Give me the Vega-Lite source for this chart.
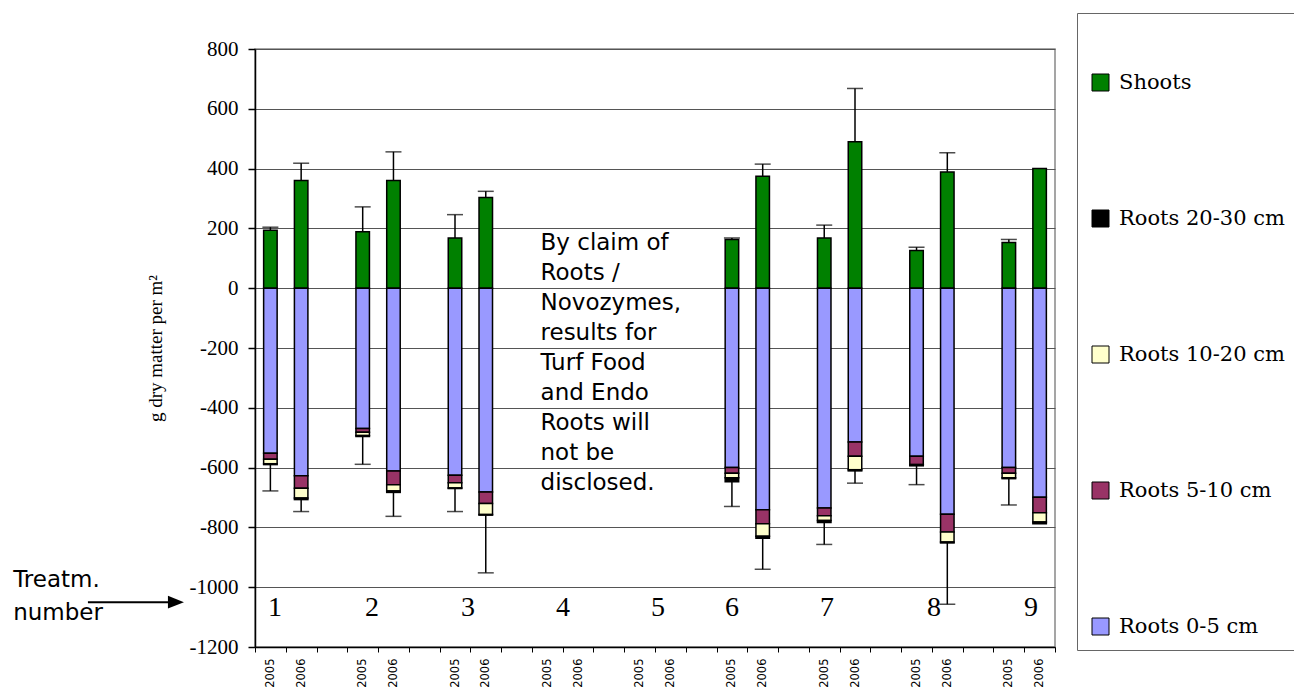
{
  "$schema": "https://vega.github.io/schema/vega-lite/v6.json",
  "autosize": "none",
  "padding": {"left": 255, "top": 49, "right": 239, "bottom": 43},
  "width": 800,
  "height": 598,
  "background": "white",
  "config": {
    "view": {"stroke": "#888888", "strokeWidth": 1.5},
    "axisY": {
      "labelFont": "Liberation Serif",
      "labelFontSize": 21,
      "labelColor": "black",
      "labelPadding": 10,
      "tickSize": 7,
      "tickColor": "black",
      "tickWidth": 1.5,
      "domainColor": "black",
      "domainWidth": 1.5,
      "grid": true,
      "gridColor": "#555555",
      "gridWidth": 1,
      "titleFont": "Liberation Serif",
      "titleFontSize": 19,
      "titleFontWeight": "normal",
      "titleColor": "black",
      "titlePadding": 24
    }
  },
  "datasets": {
    "bars": [
      {"slot": "1|2005", "comp": "Shoots", "ord": 0, "v": 194},
      {"slot": "1|2005", "comp": "Roots 0-5 cm", "ord": 1, "v": -552},
      {"slot": "1|2005", "comp": "Roots 5-10 cm", "ord": 2, "v": -20},
      {"slot": "1|2005", "comp": "Roots 10-20 cm", "ord": 3, "v": -15},
      {"slot": "1|2005", "comp": "Roots 20-30 cm", "ord": 4, "v": -3},
      {"slot": "1|2006", "comp": "Shoots", "ord": 0, "v": 360},
      {"slot": "1|2006", "comp": "Roots 0-5 cm", "ord": 1, "v": -627},
      {"slot": "1|2006", "comp": "Roots 5-10 cm", "ord": 2, "v": -42},
      {"slot": "1|2006", "comp": "Roots 10-20 cm", "ord": 3, "v": -33},
      {"slot": "1|2006", "comp": "Roots 20-30 cm", "ord": 4, "v": -5},
      {"slot": "2|2005", "comp": "Shoots", "ord": 0, "v": 189},
      {"slot": "2|2005", "comp": "Roots 0-5 cm", "ord": 1, "v": -469},
      {"slot": "2|2005", "comp": "Roots 5-10 cm", "ord": 2, "v": -13},
      {"slot": "2|2005", "comp": "Roots 10-20 cm", "ord": 3, "v": -11},
      {"slot": "2|2005", "comp": "Roots 20-30 cm", "ord": 4, "v": -3},
      {"slot": "2|2006", "comp": "Shoots", "ord": 0, "v": 360},
      {"slot": "2|2006", "comp": "Roots 0-5 cm", "ord": 1, "v": -611},
      {"slot": "2|2006", "comp": "Roots 5-10 cm", "ord": 2, "v": -46},
      {"slot": "2|2006", "comp": "Roots 10-20 cm", "ord": 3, "v": -21},
      {"slot": "2|2006", "comp": "Roots 20-30 cm", "ord": 4, "v": -5},
      {"slot": "3|2005", "comp": "Shoots", "ord": 0, "v": 168},
      {"slot": "3|2005", "comp": "Roots 0-5 cm", "ord": 1, "v": -626},
      {"slot": "3|2005", "comp": "Roots 5-10 cm", "ord": 2, "v": -25},
      {"slot": "3|2005", "comp": "Roots 10-20 cm", "ord": 3, "v": -17},
      {"slot": "3|2005", "comp": "Roots 20-30 cm", "ord": 4, "v": -2},
      {"slot": "3|2006", "comp": "Shoots", "ord": 0, "v": 303},
      {"slot": "3|2006", "comp": "Roots 0-5 cm", "ord": 1, "v": -682},
      {"slot": "3|2006", "comp": "Roots 5-10 cm", "ord": 2, "v": -38},
      {"slot": "3|2006", "comp": "Roots 10-20 cm", "ord": 3, "v": -37},
      {"slot": "3|2006", "comp": "Roots 20-30 cm", "ord": 4, "v": -2},
      {"slot": "6|2005", "comp": "Shoots", "ord": 0, "v": 163},
      {"slot": "6|2005", "comp": "Roots 0-5 cm", "ord": 1, "v": -600},
      {"slot": "6|2005", "comp": "Roots 5-10 cm", "ord": 2, "v": -19},
      {"slot": "6|2005", "comp": "Roots 10-20 cm", "ord": 3, "v": -15},
      {"slot": "6|2005", "comp": "Roots 20-30 cm", "ord": 4, "v": -13},
      {"slot": "6|2006", "comp": "Shoots", "ord": 0, "v": 374},
      {"slot": "6|2006", "comp": "Roots 0-5 cm", "ord": 1, "v": -741},
      {"slot": "6|2006", "comp": "Roots 5-10 cm", "ord": 2, "v": -47},
      {"slot": "6|2006", "comp": "Roots 10-20 cm", "ord": 3, "v": -42},
      {"slot": "6|2006", "comp": "Roots 20-30 cm", "ord": 4, "v": -6},
      {"slot": "7|2005", "comp": "Shoots", "ord": 0, "v": 168},
      {"slot": "7|2005", "comp": "Roots 0-5 cm", "ord": 1, "v": -735},
      {"slot": "7|2005", "comp": "Roots 5-10 cm", "ord": 2, "v": -26},
      {"slot": "7|2005", "comp": "Roots 10-20 cm", "ord": 3, "v": -16},
      {"slot": "7|2005", "comp": "Roots 20-30 cm", "ord": 4, "v": -7},
      {"slot": "7|2006", "comp": "Shoots", "ord": 0, "v": 490},
      {"slot": "7|2006", "comp": "Roots 0-5 cm", "ord": 1, "v": -514},
      {"slot": "7|2006", "comp": "Roots 5-10 cm", "ord": 2, "v": -48},
      {"slot": "7|2006", "comp": "Roots 10-20 cm", "ord": 3, "v": -45},
      {"slot": "7|2006", "comp": "Roots 20-30 cm", "ord": 4, "v": -4},
      {"slot": "8|2005", "comp": "Shoots", "ord": 0, "v": 126},
      {"slot": "8|2005", "comp": "Roots 0-5 cm", "ord": 1, "v": -562},
      {"slot": "8|2005", "comp": "Roots 5-10 cm", "ord": 2, "v": -28},
      {"slot": "8|2005", "comp": "Roots 10-20 cm", "ord": 3, "v": -1},
      {"slot": "8|2005", "comp": "Roots 20-30 cm", "ord": 4, "v": -3},
      {"slot": "8|2006", "comp": "Shoots", "ord": 0, "v": 389},
      {"slot": "8|2006", "comp": "Roots 0-5 cm", "ord": 1, "v": -756},
      {"slot": "8|2006", "comp": "Roots 5-10 cm", "ord": 2, "v": -59},
      {"slot": "8|2006", "comp": "Roots 10-20 cm", "ord": 3, "v": -34},
      {"slot": "8|2006", "comp": "Roots 20-30 cm", "ord": 4, "v": -3},
      {"slot": "9|2005", "comp": "Shoots", "ord": 0, "v": 153},
      {"slot": "9|2005", "comp": "Roots 0-5 cm", "ord": 1, "v": -600},
      {"slot": "9|2005", "comp": "Roots 5-10 cm", "ord": 2, "v": -19},
      {"slot": "9|2005", "comp": "Roots 10-20 cm", "ord": 3, "v": -15},
      {"slot": "9|2005", "comp": "Roots 20-30 cm", "ord": 4, "v": -3},
      {"slot": "9|2006", "comp": "Shoots", "ord": 0, "v": 400},
      {"slot": "9|2006", "comp": "Roots 0-5 cm", "ord": 1, "v": -699},
      {"slot": "9|2006", "comp": "Roots 5-10 cm", "ord": 2, "v": -52},
      {"slot": "9|2006", "comp": "Roots 10-20 cm", "ord": 3, "v": -31},
      {"slot": "9|2006", "comp": "Roots 20-30 cm", "ord": 4, "v": -6}
    ],
    "err": [
      {"slot": "1|2005", "lo": 194, "hi": 204},
      {"slot": "1|2005", "lo": -590, "hi": -678},
      {"slot": "1|2006", "lo": 360, "hi": 418},
      {"slot": "1|2006", "lo": -707, "hi": -747},
      {"slot": "2|2005", "lo": 189, "hi": 272},
      {"slot": "2|2005", "lo": -496, "hi": -589},
      {"slot": "2|2006", "lo": 360, "hi": 456},
      {"slot": "2|2006", "lo": -683, "hi": -763},
      {"slot": "3|2005", "lo": 168, "hi": 246},
      {"slot": "3|2005", "lo": -670, "hi": -747},
      {"slot": "3|2006", "lo": 303, "hi": 324},
      {"slot": "3|2006", "lo": -759, "hi": -952},
      {"slot": "6|2005", "lo": 163, "hi": 168},
      {"slot": "6|2005", "lo": -647, "hi": -730},
      {"slot": "6|2006", "lo": 374, "hi": 415},
      {"slot": "6|2006", "lo": -836, "hi": -940},
      {"slot": "7|2005", "lo": 168, "hi": 211},
      {"slot": "7|2005", "lo": -784, "hi": -857},
      {"slot": "7|2006", "lo": 490, "hi": 668},
      {"slot": "7|2006", "lo": -611, "hi": -652},
      {"slot": "8|2005", "lo": 126, "hi": 137},
      {"slot": "8|2005", "lo": -594, "hi": -657},
      {"slot": "8|2006", "lo": 389, "hi": 453},
      {"slot": "8|2006", "lo": -852, "hi": -1057},
      {"slot": "9|2005", "lo": 153, "hi": 163},
      {"slot": "9|2005", "lo": -637, "hi": -725}
    ],
    "nums": [
      {"q": 0.65, "ty": -1097, "t": "1"},
      {"q": 3.8, "ty": -1097, "t": "2"},
      {"q": 6.92, "ty": -1097, "t": "3"},
      {"q": 10.01, "ty": -1097, "t": "4"},
      {"q": 13.1, "ty": -1097, "t": "5"},
      {"q": 15.5, "ty": -1097, "t": "6"},
      {"q": 18.59, "ty": -1097, "t": "7"},
      {"q": 22.07, "ty": -1097, "t": "8"},
      {"q": 25.22, "ty": -1097, "t": "9"}
    ],
    "note": [
      {"q": 9.28, "ty": 127, "t": "By claim of\nRoots /\nNovozymes,\nresults for\nTurf Food\nand Endo\nRoots will\nnot be\ndisclosed."}
    ],
    "treat": [
      {"q": -7.86, "ty": -1000, "t": "Treatm.\nnumber"}
    ],
    "arrow": [
      {"q": -5.43, "q2": -2.6, "ty": -1050}
    ],
    "head": [
      {"q": -2.57, "ty": -1050}
    ]
  },
  "layer": [
    {
      "layer": [
        {
          "data": {"name": "bars"},
          "mark": {"type": "bar", "width": 13.5, "stroke": "black", "strokeWidth": 1.5},
          "encoding": {
            "x": {
              "field": "slot", "type": "nominal",
              "scale": {"domain": ["1|2005","1|2006","1|x","2|2005","2|2006","2|x","3|2005","3|2006","3|x","4|2005","4|2006","4|x","5|2005","5|2006","5|x","6|2005","6|2006","6|x","7|2005","7|2006","7|x","8|2005","8|2006","8|x","9|2005","9|2006"], "paddingInner": 0, "paddingOuter": 0},
              "axis": {
                "title": null,
                "labelExpr": "split(datum.value,'|')[1] == 'x' ? '' : split(datum.value,'|')[1]",
                "labelAngle": 270,
                "labelFont": "DejaVu Sans",
                "labelFontSize": 11.5,
                "labelColor": "black",
                "labelPadding": 6,
                "labelOverlap": false,
                "tickBand": "extent",
                "tickSize": 5,
                "tickColor": "black",
                "domainColor": "black",
                "domainWidth": 1.5,
                "grid": false
              }
            },
            "y": {
              "field": "v", "type": "quantitative", "stack": "zero",
              "title": "g dry matter per m²",
              "scale": {"domain": [-1200, 800], "nice": false, "zero": false},
              "axis": {"values": [-1200,-1000,-800,-600,-400,-200,0,200,400,600,800], "labelExpr": "'' + datum.value", "labelFont": "Liberation Serif", "labelFontSize": 21, "labelColor": "black", "labelPadding": 10, "tickSize": 7}
            },
            "color": {
              "field": "comp", "type": "nominal",
              "scale": {
                "domain": ["Shoots", "Roots 20-30 cm", "Roots 10-20 cm", "Roots 5-10 cm", "Roots 0-5 cm"],
                "range": ["#008000", "#000000", "#FFFFCC", "#993366", "#9999FF"]
              },
              "legend": {
                "orient": "none",
                "legendX": 822,
                "legendY": -36,
                "title": " ",
                "titleFontSize": 16,
                "titlePadding": 30,
                "padding": 13,
                "strokeColor": "#666666",
                "symbolType": "square",
                "symbolSize": 289,
                "symbolStrokeColor": "black",
                "symbolStrokeWidth": 1,
                "labelFont": "DejaVu Serif",
                "labelFontSize": 21,
                "labelColor": "black",
                "labelOffset": 8,
                "rowPadding": 114,
                "labelLimit": 400
              }
            },
            "order": {"field": "ord", "type": "quantitative"}
          }
        },
        {
          "data": {"name": "err"},
          "mark": {"type": "rule", "color": "black", "strokeWidth": 1.5},
          "encoding": {
            "x": {"field": "slot", "type": "nominal"},
            "y": {"field": "lo", "type": "quantitative", "title": "g dry matter per m²", "axis": {"values": [-1200,-1000,-800,-600,-400,-200,0,200,400,600,800], "labelExpr": "'' + datum.value", "labelFont": "Liberation Serif", "labelFontSize": 21, "labelColor": "black", "labelPadding": 10, "tickSize": 7}},
            "y2": {"field": "hi"}
          }
        },
        {
          "data": {"name": "err"},
          "mark": {"type": "tick", "color": "black", "thickness": 1.5, "size": 16, "orient": "horizontal"},
          "encoding": {
            "x": {"field": "slot", "type": "nominal"},
            "y": {"field": "hi", "type": "quantitative", "title": "g dry matter per m²", "axis": {"values": [-1200,-1000,-800,-600,-400,-200,0,200,400,600,800], "labelExpr": "'' + datum.value", "labelFont": "Liberation Serif", "labelFontSize": 21, "labelColor": "black", "labelPadding": 10, "tickSize": 7}}
          }
        }
      ]
    },
    {
      "layer": [
        {
          "data": {"name": "nums"},
          "mark": {"type": "text", "font": "Liberation Serif", "fontSize": 28, "color": "black", "align": "center", "baseline": "alphabetic"},
          "encoding": {
            "x": {"field": "q", "type": "quantitative", "scale": {"domain": [0, 26], "nice": false, "zero": false}, "axis": null},
            "y": {"field": "ty", "type": "quantitative", "title": "g dry matter per m²", "axis": {"values": [-1200,-1000,-800,-600,-400,-200,0,200,400,600,800], "labelExpr": "'' + datum.value", "labelFont": "Liberation Serif", "labelFontSize": 21, "labelColor": "black", "labelPadding": 10, "tickSize": 7}},
            "text": {"field": "t"}
          }
        },
        {
          "data": {"name": "note"},
          "mark": {"type": "text", "font": "DejaVu Sans", "fontSize": 23, "color": "black", "align": "left", "baseline": "alphabetic", "lineBreak": "\n", "lineHeight": 30},
          "encoding": {
            "x": {"field": "q", "type": "quantitative"},
            "y": {"field": "ty", "type": "quantitative", "title": "g dry matter per m²", "axis": {"values": [-1200,-1000,-800,-600,-400,-200,0,200,400,600,800], "labelExpr": "'' + datum.value", "labelFont": "Liberation Serif", "labelFontSize": 21, "labelColor": "black", "labelPadding": 10, "tickSize": 7}},
            "text": {"field": "t"}
          }
        },
        {
          "data": {"name": "treat"},
          "mark": {"type": "text", "font": "DejaVu Sans", "fontSize": 23, "color": "black", "align": "left", "baseline": "alphabetic", "lineBreak": "\n", "lineHeight": 33},
          "encoding": {
            "x": {"field": "q", "type": "quantitative"},
            "y": {"field": "ty", "type": "quantitative", "title": "g dry matter per m²", "axis": {"values": [-1200,-1000,-800,-600,-400,-200,0,200,400,600,800], "labelExpr": "'' + datum.value", "labelFont": "Liberation Serif", "labelFontSize": 21, "labelColor": "black", "labelPadding": 10, "tickSize": 7}},
            "text": {"field": "t"}
          }
        },
        {
          "data": {"name": "arrow"},
          "mark": {"type": "rule", "color": "black", "strokeWidth": 2},
          "encoding": {
            "x": {"field": "q", "type": "quantitative"},
            "x2": {"field": "q2"},
            "y": {"field": "ty", "type": "quantitative", "title": "g dry matter per m²", "axis": {"values": [-1200,-1000,-800,-600,-400,-200,0,200,400,600,800], "labelExpr": "'' + datum.value", "labelFont": "Liberation Serif", "labelFontSize": 21, "labelColor": "black", "labelPadding": 10, "tickSize": 7}}
          }
        },
        {
          "data": {"name": "head"},
          "mark": {"type": "point", "shape": "M -1 -0.8 L 1 0 L -1 0.8 Z", "size": 256, "filled": true, "color": "black", "opacity": 1},
          "encoding": {
            "x": {"field": "q", "type": "quantitative"},
            "y": {"field": "ty", "type": "quantitative", "title": "g dry matter per m²", "axis": {"values": [-1200,-1000,-800,-600,-400,-200,0,200,400,600,800], "labelExpr": "'' + datum.value", "labelFont": "Liberation Serif", "labelFontSize": 21, "labelColor": "black", "labelPadding": 10, "tickSize": 7}}
          }
        }
      ]
    }
  ],
  "resolve": {"scale": {"x": "independent"}}
}
